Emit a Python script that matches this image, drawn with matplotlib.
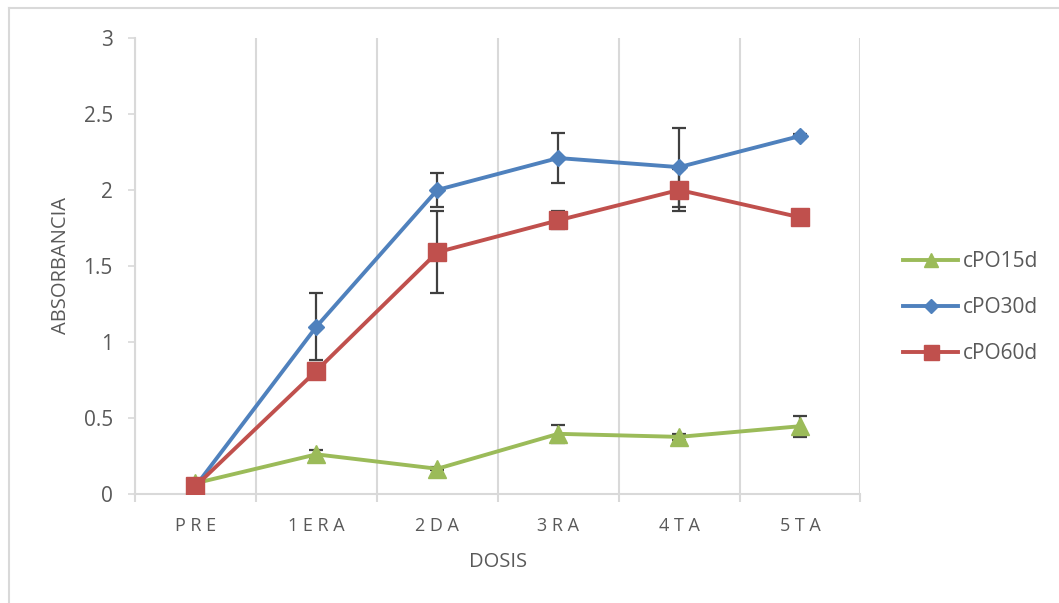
import matplotlib
matplotlib.use('Agg')
import matplotlib.pyplot as plt
from matplotlib.lines import Line2D
import numpy as np

# datos
dosis = ['PRE', '1ERA', '2DA', '3RA', '4TA', '5TA']
series = ['cPO15d', 'cPO30d', 'cPO60d']
cpo15 = [0.07, 0.26, 0.165, 0.395, 0.375, 0.445]
cpo15_err = [0.02, 0.03, 0.01, 0.06, 0.02, 0.07]
cpo30 = [0.05, 1.10, 2.00, 2.21, 2.15, 2.355]
cpo30_err = [0.01, 0.22, 0.11, 0.165, 0.26, 0.01]
cpo60 = [0.05, 0.81, 1.59, 1.80, 2.00, 1.82]
cpo60_err = [0.01, 0.05, 0.27, 0.06, 0.14, 0.05]

colores = ['#9BBB59', '#4F81BD', '#C0504D']
marcadores = ['^', 'D', 's']
tamanos = [12.5, 8.5, 13.5]
gris = '#595959'
gris_claro = '#D9D9D9'

plt.rcParams['font.family'] = ['Open Sans', 'DejaVu Sans']

fig = plt.figure(figsize=(10.59, 6.03), dpi=100)
ax = fig.add_axes([0.1275, 0.181, 0.685, 0.756])

x = np.arange(len(dosis))
datos = [(cpo15, cpo15_err), (cpo30, cpo30_err), (cpo60, cpo60_err)]
for i, (y, e) in enumerate(datos):
    ax.errorbar(x, y, yerr=e, fmt='none', ecolor='#404040', elinewidth=1.6,
                capsize=5, capthick=1.6, zorder=2)
for i, (y, e) in enumerate(datos):
    ax.plot(x, y, color=colores[i], lw=2.8, marker=marcadores[i],
            ms=tamanos[i], mec=colores[i], zorder=3 + i)

ax.set_xlim(-0.5, len(dosis) - 0.5)
ax.set_ylim(0, 3)
ax.set_yticks(np.arange(0, 3.01, 0.5))
ax.set_yticklabels(['0', '0.5', '1', '1.5', '2', '2.5', '3'])
ax.set_xticks(x)
ax.set_xticklabels([' '.join(list(d)) for d in dosis])
ax.set_xticks(np.arange(-0.5, len(dosis), 1), minor=True)
ax.grid(True, axis='x', which='minor', color=gris_claro, lw=1.5, zorder=0)

for s in ['top', 'right']:
    ax.spines[s].set_visible(False)
for s in ['left', 'bottom']:
    ax.spines[s].set_color(gris_claro)
    ax.spines[s].set_linewidth(1.5)

ax.tick_params(axis='y', colors=gris_claro, labelcolor=gris, labelsize=15,
               length=5, width=1.2, pad=11)
ax.tick_params(axis='x', which='major', length=0, labelcolor=gris,
               labelsize=13, pad=17)
ax.tick_params(axis='x', which='minor', length=6, width=1.5, colors=gris_claro)

ax.set_xlabel('DOSIS', color=gris, fontsize=14.5)
ax.set_ylabel('ABSORBANCIA', color=gris, fontsize=14.5)
ax.xaxis.set_label_coords(0.5, -0.127)
ax.yaxis.set_label_coords(-0.088, 0.5)

handles = [Line2D([0], [0], color=colores[i], lw=2.8, marker=marcadores[i],
                  ms=tamanos[i] * 0.8, mec=colores[i]) for i in range(3)]
fig.legend(handles, series, loc='center left', bbox_to_anchor=(0.8527, 0.49),
           frameon=False, fontsize=15, labelcolor=gris, handlelength=2.65,
           handletextpad=0.2, labelspacing=1.2, borderpad=0, borderaxespad=0)

# borde del grafico
fig.add_artist(Line2D([0.0085, 1.0], [0.987, 0.987], color=gris_claro, lw=1.5,
                      transform=fig.transFigure))
fig.add_artist(Line2D([0.0085, 0.0085], [0.0, 0.987], color=gris_claro, lw=1.5,
                      transform=fig.transFigure))

fig.savefig('out.png', dpi=100)
